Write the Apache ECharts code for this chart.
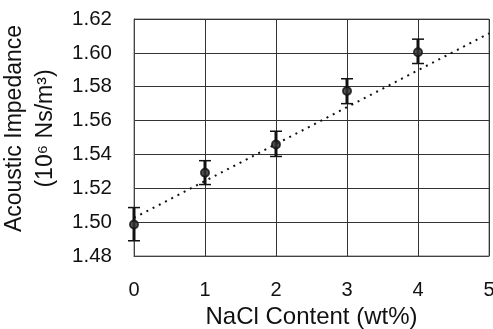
<!DOCTYPE html>
<html>
<head>
<meta charset="utf-8">
<script src="https://cdn.jsdelivr.net/npm/echarts@6/dist/echarts.min.js"></script>
<style>
html,body{margin:0;padding:0;background:#fff;}
#chart{width:493px;height:329px;}
</style>
</head>
<body>
<div id="chart"></div>
<script>
const nacl = [0, 1, 2, 3, 4];
const impedance = [1.4986, 1.5292, 1.5459, 1.5775, 1.6004];
const errLow = [1.4890, 1.5222, 1.5388, 1.5700, 1.5937];
const errHigh = [1.5086, 1.5363, 1.5537, 1.5847, 1.6081];
const trendX = [0, 5];
const trendY = [1.5025, 1.6115];
const yTicks = ['1.48','1.50','1.52','1.54','1.56','1.58','1.60','1.62'];

const font = 'Liberation Sans, Arial, sans-serif';
const chart = echarts.init(document.getElementById('chart'));
chart.setOption({
  animation: false,
  grid: {left: 134, right: 4, top: 19, bottom: 73, show: true, borderColor: '#777', borderWidth: 1,
         containLabel: false, outerBoundsMode: 'none'},
  xAxis: {
    type: 'value', min: 0, max: 5, interval: 1,
    name: 'NaCl Content (wt%)', nameLocation: 'middle', nameGap: 47,
    nameTextStyle: {fontFamily: font, fontSize: 24, color: '#111'},
    axisLine: {show: true, lineStyle: {color: '#444'}},
    axisTick: {show: false},
    axisLabel: {fontFamily: font, fontSize: 20, color: '#111', margin: 24},
    splitLine: {show: true, lineStyle: {color: '#333', width: 1}}
  },
  yAxis: {
    type: 'value', min: 1.48, max: 1.62, interval: 0.02,
    name: 'Acoustic Impedance\n(10\u2076 Ns/m\u00b3)', nameLocation: 'middle', nameGap: 68, nameRotate: 90,
    nameTextStyle: {fontFamily: font, fontSize: 23, color: '#111', lineHeight: 31, padding: [0, 0, 0, 18]},
    axisLine: {show: true, lineStyle: {color: '#444'}},
    axisTick: {show: false},
    axisLabel: {fontFamily: font, fontSize: 20.5, color: '#111', margin: 22,
      formatter: function (v) { const i = Math.round((v - 1.48) / 0.02); return yTicks[i] || ''; }},
    splitLine: {show: true, lineStyle: {color: '#333', width: 1}}
  },
  series: [
    {
      type: 'line',
      data: trendX.map((x, i) => [x, trendY[i]]),
      symbol: 'none',
      lineStyle: {color: '#111', width: 2, type: [2, 5]},
      z: 2
    },
    {
      type: 'custom',
      data: nacl.map((x, i) => [x, errLow[i], errHigh[i]]),
      renderItem: function (params, api) {
        const lo = api.coord([api.value(0), api.value(1)]);
        const hi = api.coord([api.value(0), api.value(2)]);
        const hw = 6;
        const st = {stroke: '#111', lineWidth: 1.5};
        return {
          type: 'group',
          children: [
            {type: 'line', shape: {x1: lo[0], y1: lo[1], x2: hi[0], y2: hi[1]}, style: {stroke: '#111', lineWidth: 3}},
            {type: 'line', shape: {x1: lo[0] - hw, y1: lo[1], x2: lo[0] + hw, y2: lo[1]}, style: st},
            {type: 'line', shape: {x1: hi[0] - hw, y1: hi[1], x2: hi[0] + hw, y2: hi[1]}, style: st}
          ]
        };
      },
      z: 3
    },
    {
      type: 'scatter',
      data: nacl.map((x, i) => [x, impedance[i]]),
      symbol: 'circle', symbolSize: 8,
      itemStyle: {color: '#333', borderColor: '#111', borderWidth: 2},
      z: 4
    }
  ]
});
</script>
</body>
</html>
